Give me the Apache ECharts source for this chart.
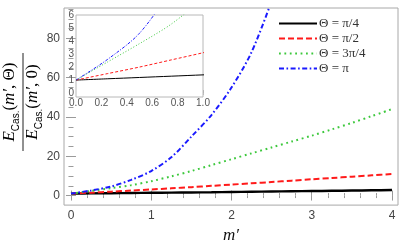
<!DOCTYPE html>
<html><head><meta charset="utf-8">
<script src="https://cdn.jsdelivr.net/npm/echarts@6/dist/echarts.min.js"></script>
<style>html,body{margin:0;padding:0;background:#fff}#c{width:407px;height:249px}</style>
</head><body><div id="c"></div>
<script>
// ---- data ----
const mPrime    = [0, 0.25, 0.5, 0.75, 1, 1.25, 1.5, 1.75, 2, 2.25, 2.5, 2.75, 3, 3.25, 3.5, 3.75, 4];
const thetaPi4  = [1, 1.1, 1.2, 1.3, 1.4, 1.5, 1.6, 1.7, 1.82, 1.94, 2.05, 2.18, 2.3, 2.43, 2.55, 2.68, 2.8];
const thetaPi2  = [1, 1.5, 2.0, 2.55, 3.1, 3.7, 4.3, 4.95, 5.6, 6.25, 6.9, 7.6, 8.3, 8.95, 9.6, 10.3, 11];
const theta3Pi4 = [1, 2.4, 3.8, 5.3, 7.3, 9.8, 12.5, 15.5, 18.5, 21.5, 24.5, 27.5, 30.5, 33.7, 37, 40.5, 44];
const thetaPi   = [1, 2.6, 4.6, 8.0, 12.5, 19.5, 30, 41, 55, 73, 99, null, null, null, null, null, null];
const seriesNames = ['Θ = π/4', 'Θ = π/2', 'Θ = 3π/4', 'Θ = π'];
const xTicks = [0, 1, 2, 3, 4];
const yTicks = [0, 20, 40, 60, 80];
const insetXTicks = [0, 0.2, 0.4, 0.6, 0.8, 1.0];
const insetYTicks = [0, 1, 2, 3, 4, 5, 6];

// ---- styling / layout ----
const XMIN = -0.087, XMAX = 4.075, YMIN = -4.85, YMAX = 95.5;
const xMinor = []; for (let i = 0; i <= 20; i++) xMinor.push(+(i * 0.2).toFixed(2));
const yMinor = []; for (let i = 0; i <= 19; i++) yMinor.push(i * 5);
const insetXMinor = []; for (let i = 0; i <= 20; i++) insetXMinor.push(+(i * 0.05).toFixed(2));
const colors = ['#000000', '#ff1a1a', '#3cc83c', '#1a1aff'];
const dashes = ['solid', [6, 3], [1.8, 3.6], [5, 2.5, 1.6, 2.5]];
const insetDashes = ['solid', [3, 2], [1, 2], [3, 1.5, 1, 1.5]];
const values = [thetaPi4, thetaPi2, theta3Pi4, thetaPi];
const tickColor = '#9a9a9a';
const labelColor = '#444';

function pairs(arr) { return mPrime.map((m, i) => [m, arr[i]]); }

function tickAxis(extra) {
  return Object.assign({
    type: 'value', axisLine: { show: false }, splitLine: { show: false },
    axisLabel: { show: false }
  }, extra);
}

const xAxis = [
  tickAxis({ gridIndex: 0, min: XMIN, max: XMAX, position: 'bottom',
    axisTick: { inside: true, length: 5, customValues: xTicks, lineStyle: { color: tickColor } },
    axisLabel: { show: true, customValues: xTicks, margin: 5, fontSize: 12, color: labelColor, fontFamily: 'Liberation Sans' },
    name: 'm′', nameLocation: 'middle', nameGap: 16,
    nameTextStyle: { fontFamily: 'Liberation Serif', fontStyle: 'italic', fontSize: 17, color: '#111' } }),
  tickAxis({ gridIndex: 0, min: XMIN, max: XMAX, position: 'bottom',
    axisTick: { inside: true, length: 2.5, customValues: xMinor, lineStyle: { color: tickColor } } }),
  tickAxis({ gridIndex: 0, min: XMIN, max: XMAX, position: 'top',
    axisTick: { inside: true, length: 5, customValues: xTicks, lineStyle: { color: tickColor } } }),
  tickAxis({ gridIndex: 0, min: XMIN, max: XMAX, position: 'top',
    axisTick: { inside: true, length: 2.5, customValues: xMinor, lineStyle: { color: tickColor } } }),
  tickAxis({ gridIndex: 1, min: 0, max: 1, position: 'bottom',
    axisTick: { inside: true, length: 3, customValues: insetXTicks, lineStyle: { color: '#b0b0b0' } },
    axisLabel: { show: true, customValues: insetXTicks, margin: 1, fontSize: 10, color: '#555',
      fontFamily: 'Liberation Sans', formatter: v => v.toFixed(1) } }),
  tickAxis({ gridIndex: 1, min: 0, max: 1, position: 'top',
    axisTick: { inside: true, length: 2, customValues: insetXMinor, lineStyle: { color: '#c0c0c0' } } })
];

const yAxis = [
  tickAxis({ gridIndex: 0, min: YMIN, max: YMAX, position: 'left',
    axisTick: { inside: true, length: 5, customValues: yTicks, lineStyle: { color: tickColor } },
    axisLabel: { show: true, customValues: yTicks, margin: 4, fontSize: 12, color: labelColor, fontFamily: 'Liberation Sans' } }),
  tickAxis({ gridIndex: 0, min: YMIN, max: YMAX, position: 'left',
    axisTick: { inside: true, length: 2.5, customValues: yMinor, lineStyle: { color: tickColor } } }),
  tickAxis({ gridIndex: 0, min: YMIN, max: YMAX, position: 'right',
    axisTick: { inside: true, length: 5, customValues: yTicks, lineStyle: { color: tickColor } } }),
  tickAxis({ gridIndex: 0, min: YMIN, max: YMAX, position: 'right',
    axisTick: { inside: true, length: 2.5, customValues: yMinor, lineStyle: { color: tickColor } } }),
  tickAxis({ gridIndex: 1, min: -0.3, max: 6, position: 'left',
    axisTick: { show: false },
    axisLabel: { show: true, customValues: insetYTicks, margin: 2, fontSize: 10, color: '#555', fontFamily: 'Liberation Sans' } }),
  tickAxis({ gridIndex: 1, min: -0.3, max: 6, position: 'left', offset: 11,
    axisTick: { inside: true, length: 3, customValues: insetYTicks, lineStyle: { color: '#a0a0a0' } } })
];

const series = [];
values.forEach((arr, i) => {
  series.push({
    name: seriesNames[i], type: 'line', xAxisIndex: 0, yAxisIndex: 0,
    data: pairs(arr), symbol: 'none', smooth: 0.3, clip: true,
    lineStyle: { color: colors[i], width: i === 0 ? 2.4 : 2, type: dashes[i] },
    itemStyle: { color: colors[i] }, z: 3
  });
});
values.forEach((arr, i) => {
  series.push({
    name: seriesNames[i], type: 'line', xAxisIndex: 4, yAxisIndex: 4,
    data: pairs(arr), symbol: 'none', smooth: 0.3, clip: true,
    lineStyle: { color: colors[i], width: 1, type: insetDashes[i] },
    itemStyle: { color: colors[i] }, z: 5
  });
});

const fracRich = {
  e: { fontFamily: 'Liberation Serif', fontStyle: 'italic', fontSize: 17, color: '#111', verticalAlign: 'bottom', padding: [0, 0, 3, 0] },
  s: { fontFamily: 'Liberation Sans', fontSize: 10, color: '#111', verticalAlign: 'bottom' },
  t: { fontFamily: 'Liberation Serif', fontSize: 17, color: '#111', verticalAlign: 'bottom', padding: [0, 0, 3, 0] },
  i: { fontFamily: 'Liberation Serif', fontStyle: 'italic', fontSize: 17, color: '#111', verticalAlign: 'bottom', padding: [0, 0, 3, 0] }
};

const option = {
  animation: false,
  grid: [
    { left: 64, right: 9, top: 8, bottom: 34, show: true, borderColor: '#a8a8a8', borderWidth: 1, containLabel: false },
    { left: 76, top: 15, width: 127, height: 82, show: true, borderColor: '#b8b8b8', borderWidth: 1, backgroundColor: '#ffffff', z: 4 }
  ],
  xAxis, yAxis, series,
  legend: {
    data: seriesNames, orient: 'vertical', left: 273, top: 12, itemWidth: 38, itemHeight: 10, itemGap: 2,
    selectedMode: false,
    itemStyle: { opacity: 0 },
    textStyle: { fontFamily: 'Liberation Serif', fontSize: 13, lineHeight: 10, color: '#333', padding: [0, 0, 0, -3] }
  },
  graphic: [{
    type: 'group', x: 23, y: 102, rotation: Math.PI / 2,
    children: [
      { type: 'text', x: 0, y: -2, style: { text: '{e|E}{s|Cas.}{t|(}{i|m′}{t|, Θ)}', rich: fracRich, align: 'center', verticalAlign: 'bottom' } },
      { type: 'line', shape: { x1: -49, y1: 0, x2: 49, y2: 0 }, style: { stroke: '#222', lineWidth: 1 } },
      { type: 'text', x: 0, y: 1, style: { text: '{e|E}{s|Cas.}{t|(}{i|m′}{t|, 0)}', rich: fracRich, align: 'center', verticalAlign: 'top' } }
    ]
  }]
};
echarts.init(document.getElementById('c')).setOption(option);
</script></body></html>
